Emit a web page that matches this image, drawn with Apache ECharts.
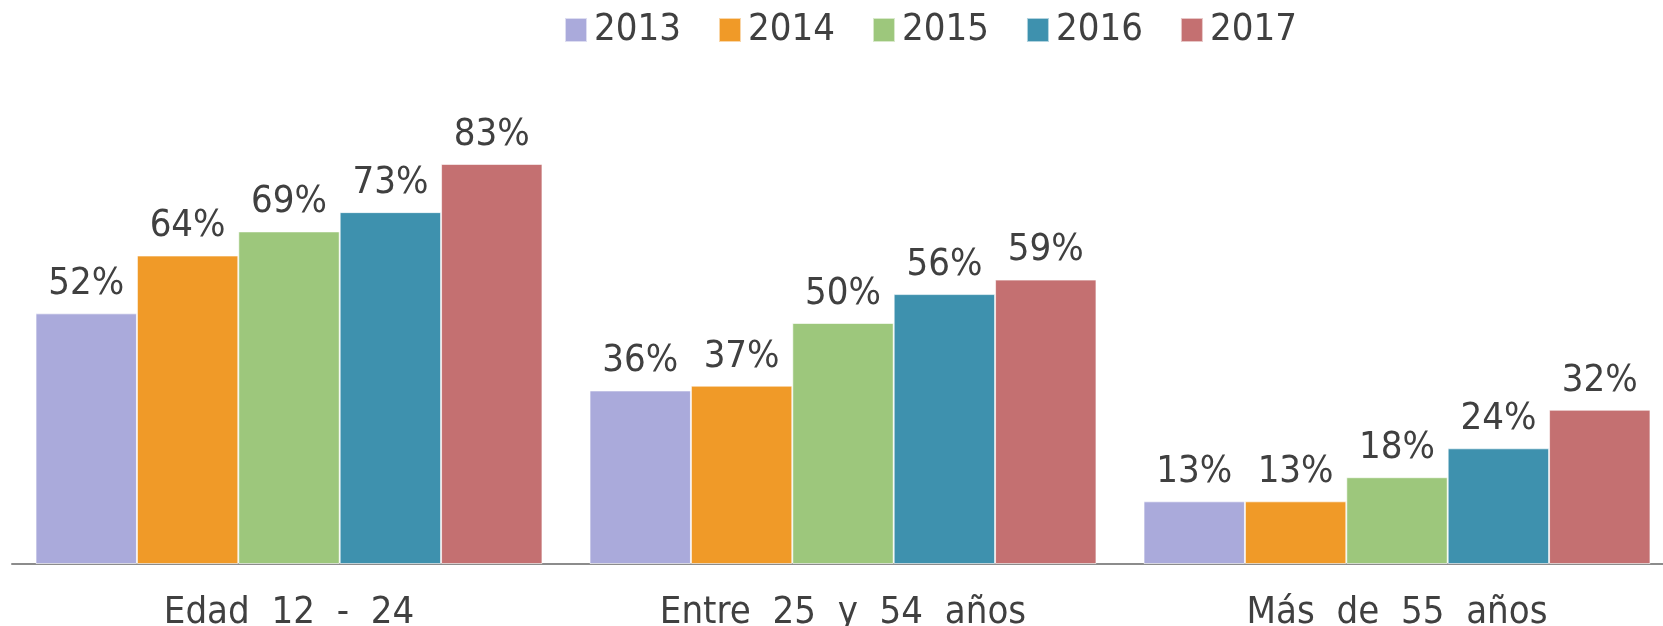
<!DOCTYPE html>
<html>
<head>
<meta charset="utf-8">
<script src="https://cdn.jsdelivr.net/npm/echarts@6/dist/echarts.min.js"></script>
<style>
html,body{margin:0;padding:0;background:#fff;}
#chart{width:1663px;height:626px;}
</style>
</head>
<body>
<div id="chart"></div>
<script>
const categories = ['Edad  12  -  24', 'Entre  25  y  54  años', 'Más  de  55  años'];
const years = ['2013', '2014', '2015', '2016', '2017'];
const v2013 = [52, 36, 13];
const v2014 = [64, 37, 13];
const v2015 = [69, 50, 18];
const v2016 = [73, 56, 24];
const v2017 = [83, 59, 32];
const colors = ['#aaaadb', '#f09a28', '#9dc77c', '#3e91ae', '#c47071'];
const seriesValues = [v2013, v2014, v2015, v2016, v2017];

const FONT = '"DejaVu Sans Condensed", "DejaVu Sans", sans-serif';
const chart = echarts.init(document.getElementById('chart'));
chart.setOption({
  animation: false,
  color: colors,
  legend: {
    left: 559, top: 6,
    itemWidth: 22, itemHeight: 24, itemGap: 37,
    icon: 'rect',
    textStyle: { fontFamily: FONT, fontSize: 38, color: '#404040', padding: [0, 0, 0, 2] },
    data: years
  },
  grid: { left: 12, top: 82, width: 1662, height: 482, outerBoundsMode: 'none', containLabel: false },
  xAxis: {
    type: 'category',
    data: categories,
    axisLine: { lineStyle: { color: '#8c8c8c', width: 2 } },
    axisTick: { show: false },
    axisLabel: { fontFamily: FONT, fontSize: 38, color: '#404040', margin: 30 }
  },
  yAxis: { type: 'value', min: 0, max: 100, show: false, splitLine: { show: false } },
  series: years.map((y, i) => ({
    name: y,
    type: 'bar',
    data: seriesValues[i],
    barGap: '0%',
    barCategoryGap: '8.5%',
    itemStyle: { color: colors[i], borderColor: 'rgba(255,255,255,0.6)', borderWidth: 1 },
    label: {
      show: true, position: 'top', distance: 10,
      formatter: '{c}%',
      fontFamily: FONT, fontSize: 38, color: '#404040'
    }
  }))
});
</script>
</body>
</html>
